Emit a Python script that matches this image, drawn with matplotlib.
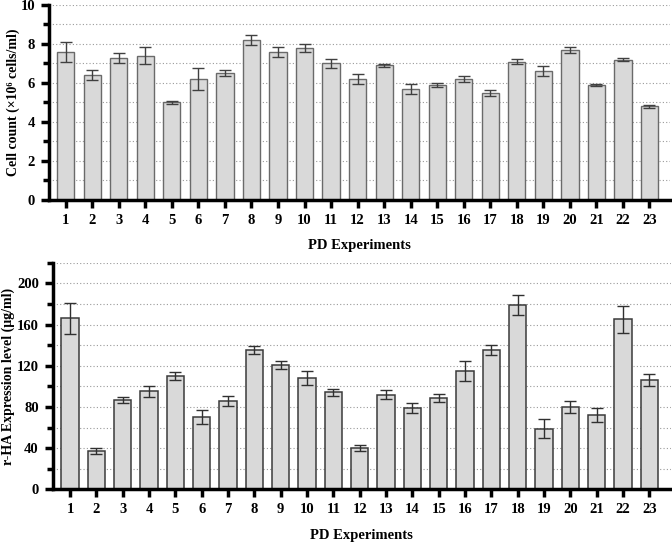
import matplotlib
matplotlib.use("Agg")
import matplotlib.pyplot as plt
from matplotlib.ticker import MultipleLocator
import numpy as np

experiments = list(range(1, 24))
cell_count = [7.6, 6.4, 7.3, 7.4, 5.0, 6.2, 6.5, 8.2, 7.6, 7.8, 7.0, 6.2, 6.9, 5.7,
              5.9, 6.2, 5.5, 7.1, 6.6, 7.7, 5.9, 7.2, 4.8]
cell_err = [0.5, 0.25, 0.25, 0.45, 0.1, 0.55, 0.15, 0.25, 0.25, 0.2, 0.25, 0.25, 0.08,
            0.25, 0.1, 0.15, 0.15, 0.15, 0.25, 0.15, 0.05, 0.08, 0.08]
rha_level = [166, 37, 87, 95, 110, 70, 86, 135, 121, 108, 94, 40, 92, 79, 89, 115,
             135, 179, 59, 80, 72, 165, 106]
rha_err = [15, 3, 3, 5, 4, 7, 5, 4, 4, 7, 3, 3, 4, 5, 4, 10, 5, 10, 9, 6, 7, 13, 6]

plt.rcParams['font.family'] = ['Liberation Serif', 'DejaVu Serif']
plt.rcParams['font.weight'] = 'bold'

fig = plt.figure(figsize=(6.72, 5.42), dpi=100)
ax1 = fig.add_axes([0.0729, 0.631, 0.924, 0.3598])
ax2 = fig.add_axes([0.0784, 0.0972, 0.920, 0.4181])

def style(ax, ymax, major, minor, xlim):
    ax.set_xlim(*xlim)
    ax.set_ylim(0, ymax)
    ax.yaxis.set_major_locator(MultipleLocator(major))
    ax.yaxis.set_minor_locator(MultipleLocator(minor))
    ax.set_xticks(experiments)
    ax.set_xticklabels([str(e) for e in experiments], fontweight='bold', fontsize=10.5)
    for lab in ax.get_yticklabels():
        lab.set_fontweight('bold')
        lab.set_fontsize(10.5)
    for s in ['top', 'right']:
        ax.spines[s].set_visible(False)
    for s in ['left', 'bottom']:
        ax.spines[s].set_linewidth(2.5)
    ax.tick_params(axis='both', which='major', length=6, width=2.5, direction='out', pad=4)
    ax.tick_params(axis='y', which='minor', length=4, width=2.5)
    ax.yaxis.grid(True, which='both', linestyle=(0, (1, 2)), color='#9a9a9a', linewidth=0.8)
    ax.set_axisbelow(True)
    ax.set_xlabel('PD Experiments', fontsize=10.5, fontweight='bold', labelpad=9)

ax1.bar(experiments, cell_count, width=0.65, color='#d9d9d9', edgecolor='#6a6a6a',
        linewidth=1.0, zorder=2)
ax1.errorbar(experiments, cell_count, yerr=cell_err, fmt='none', ecolor='#404040',
             elinewidth=1.0, capsize=4, capthick=1.0, zorder=3)
style(ax1, 10, 2, 1, (0.37, 23.77))
ax1.set_ylabel('Cell count (×10⁶ cells/ml)', fontsize=10, fontweight='bold')
ax1.yaxis.set_label_coords(-0.047, 0.5)

ax2.bar(experiments, rha_level, width=0.66, color='#d9d9d9', edgecolor='#3a3a3a',
        linewidth=1.1, zorder=2)
ax2.errorbar(experiments, rha_level, yerr=rha_err, fmt='none', ecolor='#303030',
             elinewidth=1.0, capsize=4, capthick=1.0, zorder=3)
style(ax2, 220, 40, 20, (0.34, 23.82))
ax2.set_ylabel('r-HA Expression level (μg/ml)', fontsize=10, fontweight='bold')
ax2.yaxis.set_label_coords(-0.061, 0.5)

fig.savefig('out.png', dpi=100)
